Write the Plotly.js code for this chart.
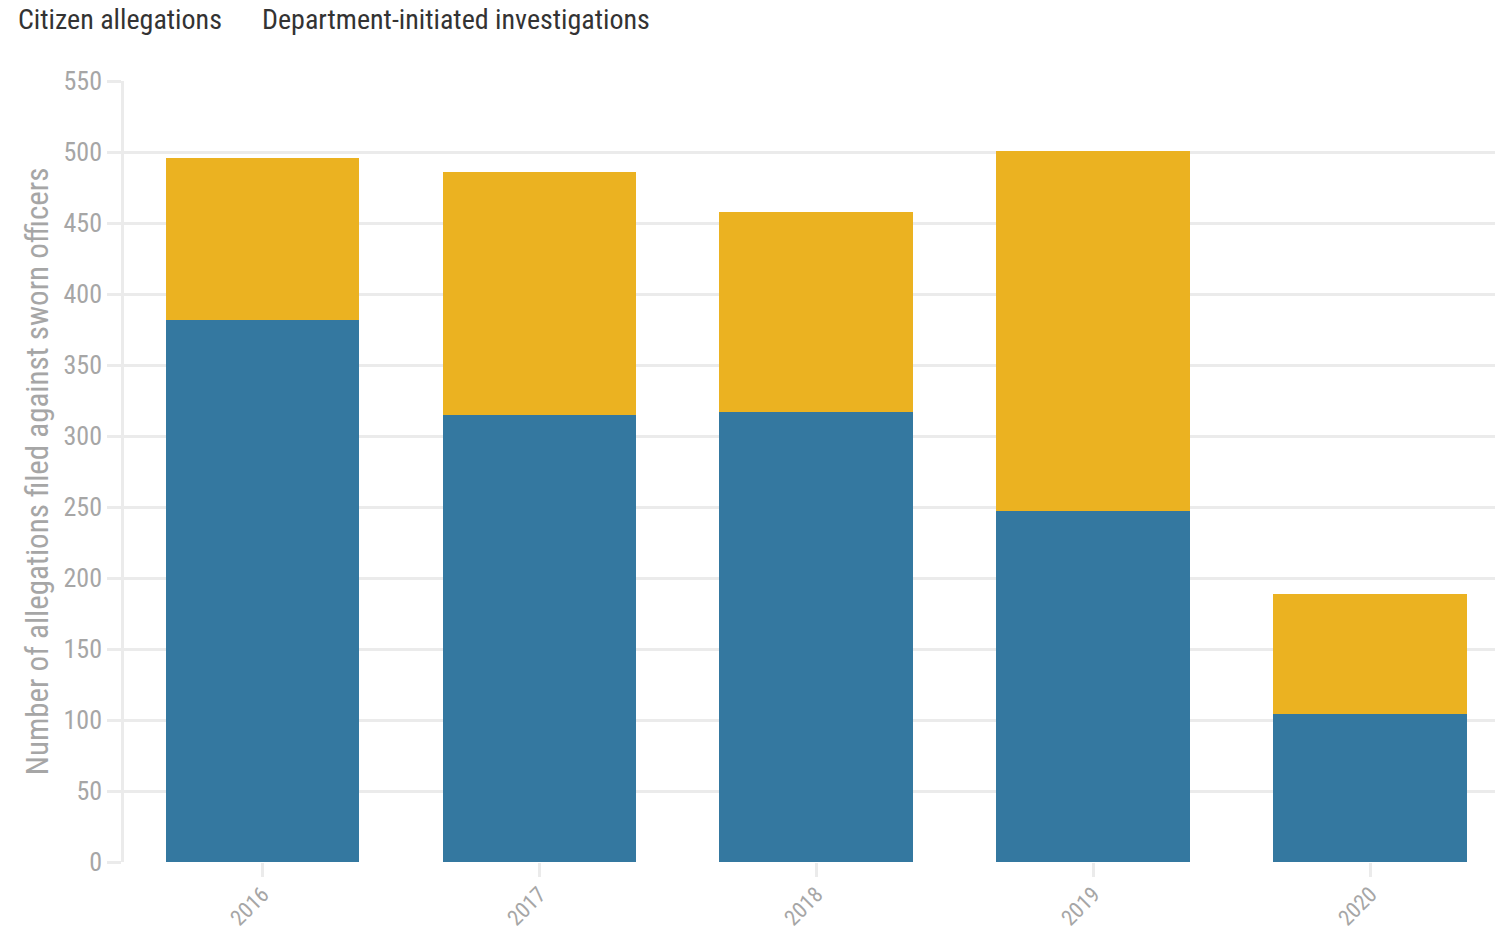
<!DOCTYPE html>
<html>
<head>
<meta charset="utf-8">
<script src="https://cdn.plot.ly/plotly-3.0.1.min.js"></script>
<style>html,body{margin:0;padding:0;background:#fff;}#chart{width:1495px;height:931px;}</style>
</head>
<body>
<div id="chart"></div>
<script>
const years = ["2016", "2017", "2018", "2019", "2020"];
const citizenAllegations = [382, 315, 317, 247, 104];
const departmentInitiated = [114, 171, 141, 254, 85];
const seriesNames = ["Citizen allegations", "Department-initiated investigations"];
const yTitle = "Number of allegations filed against sworn officers";

const FONT = "Liberation Sans Narrow, Roboto Condensed, Arial Narrow, Roboto, sans-serif";
const BLUE = "#3478a0";
const YELLOW = "#ebb221";
const GRID = "#ebebeb";
const TICKC = "#a6a6a6";

const traces = [
  {type: "bar", name: seriesNames[0], x: years, y: citizenAllegations, marker: {color: BLUE}, hoverinfo: "x+y+name"},
  {type: "bar", name: seriesNames[1], x: years, y: departmentInitiated, marker: {color: YELLOW}, hoverinfo: "x+y+name"}
];

const layout = {
  width: 1495, height: 931,
  barmode: "stack", bargap: 0.3,
  showlegend: false,
  paper_bgcolor: "#fff", plot_bgcolor: "#fff",
  margin: {l: 124, r: 0, t: 81, b: 69, pad: 0},
  font: {family: FONT, color: TICKC},
  xaxis: {
    type: "category", range: [-0.5, 4.45],
    showgrid: false, zeroline: false, showline: false,
    ticks: "outside", ticklen: 14, tickwidth: 2.5, tickcolor: GRID,
    ticklabelstandoff: -4,
    tickangle: -45, tickfont: {size: 22, color: TICKC, family: FONT}
  },
  yaxis: {
    range: [0, 550], dtick: 50, tick0: 0,
    showgrid: true, gridcolor: GRID, gridwidth: 2.5,
    zeroline: false, showline: true, linecolor: GRID, linewidth: 2.5,
    ticks: "outside", ticklen: 14, tickwidth: 2.5, tickcolor: GRID,
    tickfont: {size: 26, color: TICKC, family: FONT},
    title: {text: yTitle, font: {size: 31, color: TICKC, family: FONT}, standoff: 6}
  },
  annotations: [
    {text: seriesNames[0], xref: "paper", yref: "paper", x: -124/1371 + 16/1371, y: 1 + (81-20)/781, xanchor: "left", yanchor: "middle", showarrow: false, font: {size: 28, color: "#333", family: FONT}},
    {text: seriesNames[1], xref: "paper", yref: "paper", x: -124/1371 + 260/1371, y: 1 + (81-20)/781, xanchor: "left", yanchor: "middle", showarrow: false, font: {size: 28, color: "#333", family: FONT}}
  ]
};

Plotly.newPlot("chart", traces, layout, {displayModeBar: false, responsive: false});
</script>
</body>
</html>
